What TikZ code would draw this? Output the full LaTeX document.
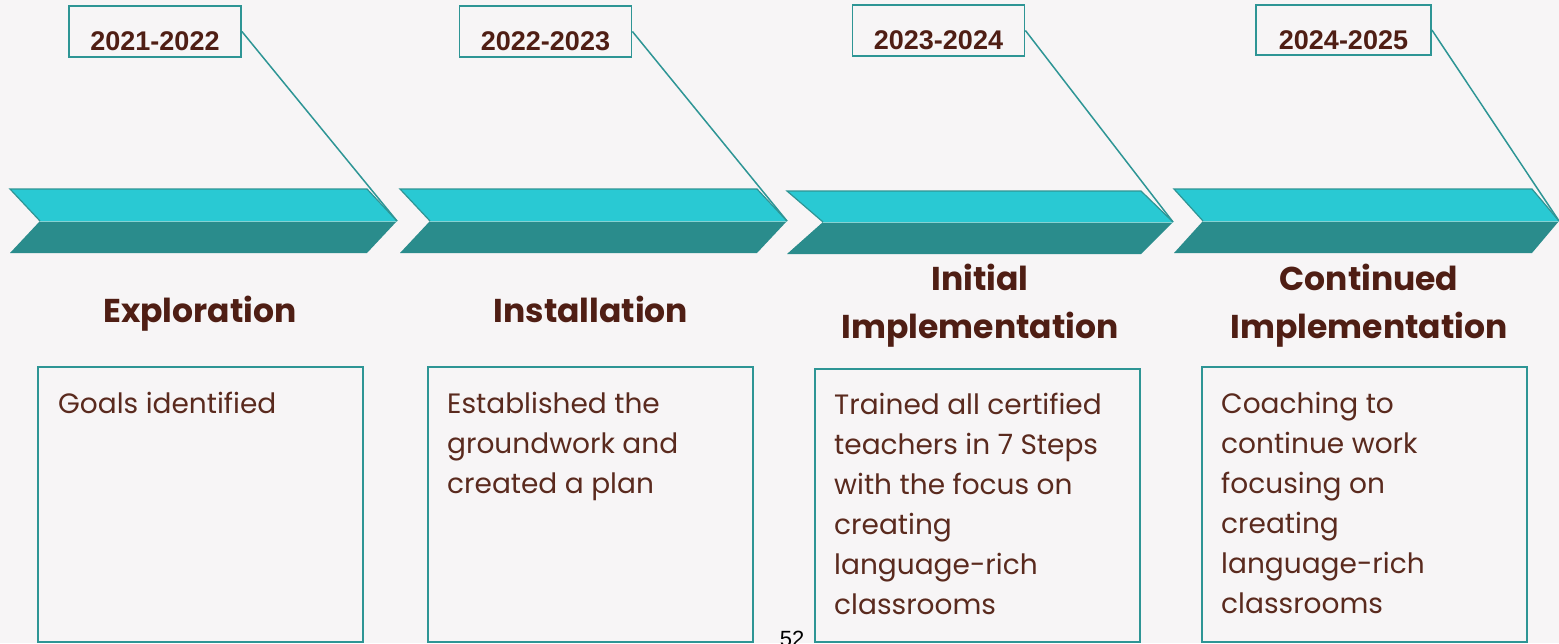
\documentclass[tikz,border=0pt]{standalone}
\usepackage{fontspec}
\newfontfamily\popfont{Poppins}
\newfontfamily\yearfont{Liberation Sans}
\definecolor{bgc}{HTML}{F7F5F6}
\definecolor{cyanband}{HTML}{29C9D3}
\definecolor{tealband}{HTML}{2A8C8C}
\definecolor{tealline}{HTML}{2E9595}
\definecolor{seam}{HTML}{86D2D2}
\definecolor{brown}{HTML}{4F1E14}
\definecolor{bodybrown}{HTML}{5A2A1E}
\newcommand\mychev[7]{% L, notch, topright, tip, ytop, ymid, ybot
  \fill[cyanband] (#1,#5) -- (#3,#5) -- (#4,#6) -- (#2,#6) -- cycle;
  \draw[tealline, line width=1.2pt, line join=miter] (#2,#6) -- (#1,#5) -- (#3,#5) -- (#4,#6);
  \fill[tealband] (#2,#6) -- (#4,#6) -- (#3,#7) -- (#1,#7) -- cycle;
  \draw[seam, line width=1pt] (#2,#6) -- (#4,#6);
}
\newcommand\leftlines[1]{\begin{tabular}[t]{@{}l@{}}#1\end{tabular}}
\newcommand\midlines[1]{\begin{tabular}[t]{@{}c@{}}#1\end{tabular}}
\begin{document}
\begin{tikzpicture}[x=1pt,y=-1pt,
  yearbox/.style={draw=tealline, line width=1.8pt, inner sep=0pt, anchor=base,
    text height=44pt, text depth=7pt, minimum width=172pt,
    font=\yearfont\bfseries\fontsize{27}{30}\selectfont, text=brown},
  leader/.style={draw=tealline, line width=1.5pt},
  heading/.style={anchor=base, inner sep=0pt,
    font=\popfont\bfseries\fontsize{33}{48}\selectfont, text=brown},
  bodytext/.style={anchor=base west, inner sep=0pt,
    font=\popfont\fontsize{28}{40}\selectfont, text=bodybrown},
  infobox/.style={draw=tealline, line width=1.8pt}
]
\useasboundingbox (0,0) rectangle (1559,643);
\clip (0,0) rectangle (1559,643);
\fill[bgc] (0,0) rectangle (1559,643);

% chevrons
\mychev{10}{40}{367}{397}{189}{221}{253}
\mychev{400}{430}{757}{787}{189}{221}{253}
\mychev{787}{823}{1141}{1173}{191}{222}{254}
\mychev{1174}{1203}{1532}{1559}{189}{221}{253}

% tips
\coordinate (t1) at (397,221);
\coordinate (t2) at (787,221);
\coordinate (t3) at (1173,222);
\coordinate (t4) at (1559,221);

% year boxes
\node[yearbox] (y1) at (155,50) {2021-2022};
\node[yearbox] (y2) at (545.5,50) {2022-2023};
\node[yearbox] (y3) at (938.5,49) {2023-2024};
\node[yearbox, minimum width=175pt, text depth=6pt] (y4) at (1343.5,49) {2024-2025};

\draw[leader] (y1.east) -- (t1);
\draw[leader] (y2.east) -- (t2);
\draw[leader] (y3.east) -- (t3);
\draw[leader] (y4.east) -- (t4);

% headings
\node[heading] (h1) at (200,322) {Exploration};
\node[heading] (h2) at (591,322) {Installation};
\node[heading] (h3) at (980,290) {\midlines{Initial\\Implementation}};
\node[heading] (h4) at (1369,290) {\midlines{Continued\\Implementation}};

% info boxes
\draw[infobox] (38,367) rectangle (363,642);
\draw[infobox] (428,367) rectangle (753,642);
\draw[infobox] (815,369) rectangle (1140,642);
\draw[infobox] (1202,367) rectangle (1527,642);

% body texts
\node[bodytext] (b1) at (58,413) {Goals identified};
\node[bodytext] (b2) at (447,413) {\leftlines{Established the\\groundwork and\\created a plan}};
\node[bodytext] (b3) at (834,414) {\leftlines{Trained all certified\\teachers in 7 Steps\\with the focus on\\creating\\language-rich\\classrooms}};
\node[bodytext] (b4) at (1221,413) {\leftlines{Coaching to\\continue work\\focusing on\\creating\\language-rich\\classrooms}};

% page number
\node[anchor=base, inner sep=0pt, font=\yearfont\fontsize{22}{26}\selectfont, text=black] (pg) at (792,646) {52};
\end{tikzpicture}
\end{document}
